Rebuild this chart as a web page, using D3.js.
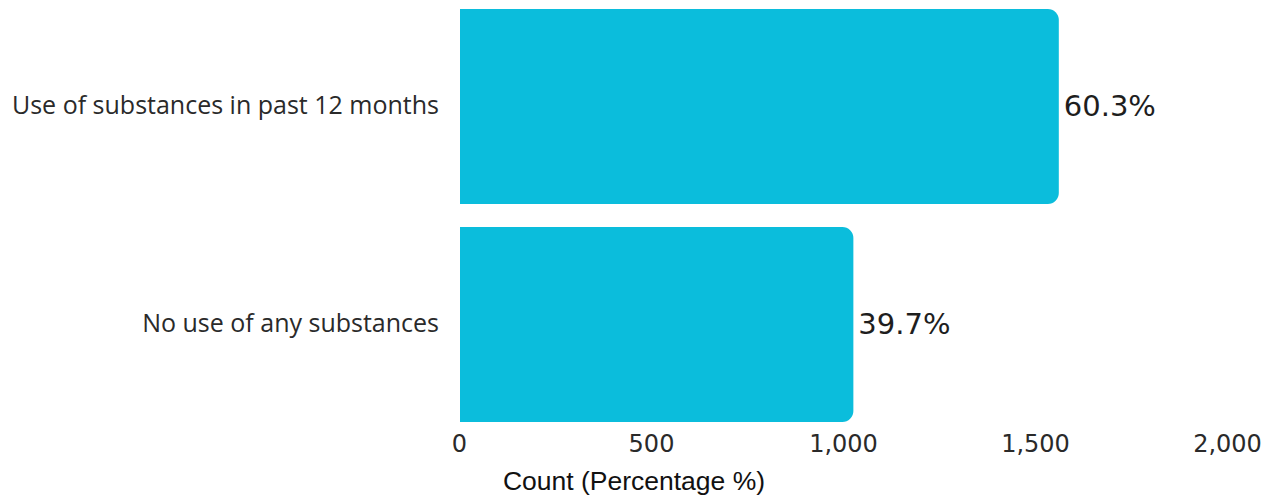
<!DOCTYPE html>
<html>
<head>
<meta charset="utf-8">
<script src="https://cdn.jsdelivr.net/npm/d3@7/dist/d3.min.js"></script>
<style>
  html, body { margin: 0; padding: 0; background: #ffffff; }
  svg { display: block; }
</style>
</head>
<body>
<script>
// Survey responses: substance use in the past 12 months
const categories = ["Use of substances in past 12 months", "No use of any substances"];
const counts = [1562, 1027];
const tickValues = [0, 500, 1000, 1500, 2000];
const axisTitle = "Count (Percentage %)";

const width = 1261, height = 499;
const total = d3.sum(counts);

const svg = d3.select("body").append("svg")
  .attr("width", width)
  .attr("height", height)
  .style("overflow", "hidden");

const x = d3.scaleLinear().domain([0, 2000]).range([459, 1227]);
const y = d3.scaleBand().domain(categories).range([9, 422]).paddingInner(0.1055).paddingOuter(0);

// Bars with rounded right-hand corners only
const r = 11;
function barPath(x0, x1, y0, h) {
  return `M${x0},${y0}H${x1 - r}A${r},${r} 0 0 1 ${x1},${y0 + r}` +
         `V${y0 + h - r}A${r},${r} 0 0 1 ${x1 - r},${y0 + h}H${x0}Z`;
}

svg.append("g").selectAll("path")
  .data(categories)
  .join("path")
  .attr("d", (c, i) => barPath(x(0) + 1, x(counts[i]), y(c), y.bandwidth()))
  .attr("fill", "#0bbddc");

// Percentage labels at bar ends
svg.append("g").selectAll("text")
  .data(categories)
  .join("text")
  .attr("x", (c, i) => x(counts[i]) + 5)
  .attr("y", (c) => y(c) + y.bandwidth() / 2 - 1)
  .attr("dy", "0.36em")
  .attr("font-family", "DejaVu Sans")
  .attr("font-size", 29)
  .attr("fill", "#1e1e1e")
  .text((c, i) => (counts[i] / total * 100).toFixed(1) + "%");

// Category labels
const yAxis = svg.append("g")
  .attr("transform", `translate(${x(0) - 20},0)`)
  .call(d3.axisLeft(y).tickSize(0).tickPadding(0));
yAxis.select(".domain").remove();
yAxis.selectAll("text")
  .attr("font-family", "Open Sans")
  .attr("font-size", 25)
  .attr("fill", "#2a2a2a")
  .attr("dy", "0.3em");

// Count axis
const xAxis = svg.append("g")
  .attr("transform", `translate(0,${433})`)
  .call(d3.axisBottom(x).tickValues(tickValues).tickSize(0).tickPadding(0).tickFormat(d3.format(",")));
xAxis.select(".domain").remove();
xAxis.selectAll("text")
  .attr("font-family", "DejaVu Sans")
  .attr("font-size", 24)
  .attr("fill", "#2a2a2a")
  .attr("dy", "0.8em");

svg.append("text")
  .attr("x", 634)
  .attr("y", 490)
  .attr("text-anchor", "middle")
  .attr("font-family", "Liberation Sans")
  .attr("font-size", 26.5)
  .attr("fill", "#111")
  .text(axisTitle);
</script>
</body>
</html>
